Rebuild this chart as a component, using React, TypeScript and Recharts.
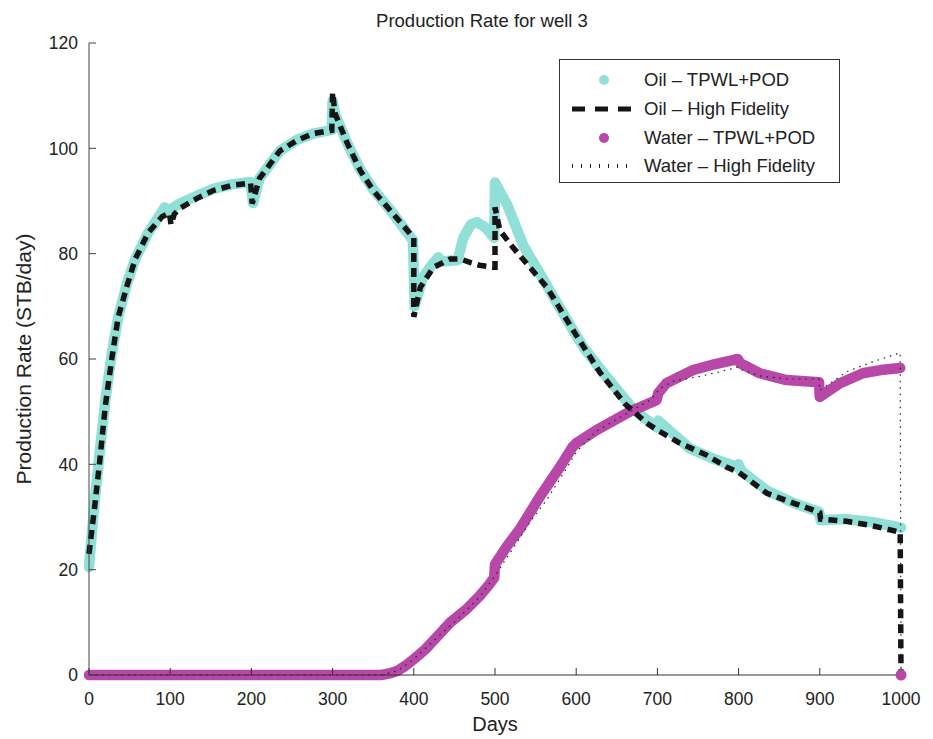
import React from 'react'
import { ComposedChart, Line, Scatter, XAxis, YAxis, Legend } from 'recharts'

// day / rate pairs
const oilTpwlDays = [0, 3, 7, 13, 20, 28, 36, 47, 57, 73, 88, 93, 97, 100, 112, 133, 153, 177, 199, 202, 210, 223, 235, 256, 276, 299, 300, 303, 318, 334, 350, 371, 399, 401, 411, 423, 430, 435, 454, 461, 470, 478, 488, 499, 500, 515, 535, 555, 575, 596, 610, 638, 670, 699, 701, 740, 770, 797, 800, 803, 835, 870, 899, 901, 933, 966, 1000]
const oilTpwlRate = [20.5, 26, 33, 42, 52, 61, 68, 74.5, 79, 84, 87.5, 88.8, 88, 88.4, 89.5, 91, 92.3, 93.2, 93.6, 89.6, 94.3, 97, 99.5, 101.6, 102.8, 103.5, 109, 106.5, 101, 96, 92.2, 88.3, 82.5, 70, 75.5, 78, 79.3, 78.5, 78.8, 83, 85.5, 86, 85, 83, 93.5, 89.3, 81.5, 76.3, 71, 65.5, 62, 56.5, 50.5, 47, 48.3, 43, 41, 39.6, 40, 38.8, 35, 32.5, 31, 29.4, 29.6, 29, 28]

const oilHfDays = [0, 7, 13.5, 20, 28, 36, 47, 57, 73, 90, 99, 101, 105, 112, 133, 153, 177, 199, 201, 210, 223, 235, 256, 276, 299, 300, 303, 318, 334, 350, 371, 400, 400, 408, 424, 445, 457, 470, 481, 498, 500, 500, 506, 522, 543, 564, 596, 629, 660, 687, 700, 728, 760, 785, 800, 835, 870, 892, 900, 901, 933, 966, 999, 1000]
const oilHfRate = [23, 32, 41, 51, 60, 68, 74, 79, 84, 87, 87.7, 85.5, 87.5, 88.6, 90.5, 92, 93, 93.4, 89.5, 94.3, 97, 99.5, 101.5, 102.8, 103.4, 110.6, 106.6, 101, 95.8, 92, 88.2, 83, 68, 73.6, 77.4, 79, 79, 78.3, 77.8, 77.4, 77.4, 88.8, 84.4, 81.2, 77.4, 73.6, 65.5, 57.5, 51.5, 47.8, 46.5, 44, 41.8, 39.5, 38.5, 34.5, 32.5, 31.3, 30.8, 29.6, 29.2, 28.3, 27.1, 0]

const waterTpwlDays = [0, 360, 370, 380, 390, 400, 415, 430, 445, 453, 465, 481, 492, 499, 500, 515, 531, 555, 580, 596, 600, 625, 666, 699, 701, 711, 744, 770, 793, 799, 802, 826, 859, 899, 900, 925, 953, 975, 999]
const waterTpwlRate = [0, 0, 0.3, 0.8, 1.8, 3, 5, 7.5, 10, 11, 12.5, 15, 17, 18.5, 21, 24.5, 27.8, 33.8, 39.5, 43.4, 44, 46.5, 50, 52.2, 53.5, 55.4, 57.9, 59, 59.8, 60, 59.2, 57.3, 56, 55.6, 52.8, 55.4, 57.3, 57.9, 58.3]
const waterTpwlEnd = [{ day: 1000, v: 0 }]

const waterHfDays = [0, 360, 380, 400, 430, 453, 481, 500, 510, 522, 545, 564, 585, 601, 625, 666, 691, 703, 720, 752, 775, 793, 800, 803, 826, 860, 899, 900, 933, 966, 999, 1000]
const waterHfRate = [0, 0, 0.8, 3, 7.3, 10.5, 14.8, 18.8, 21.2, 24, 29.5, 33.3, 38.5, 42.5, 46.3, 50, 52.2, 54.4, 55.8, 56.7, 57.5, 58.2, 58.5, 58, 56.8, 56.2, 56.2, 54, 57.6, 59.5, 61.2, 0]

const xTicks = [0, 100, 200, 300, 400, 500, 600, 700, 800, 900, 1000]
const yTicks = [0, 20, 40, 60, 80, 100, 120]

const toRows = (days: number[], rate: number[]) => days.map((d, i) => ({ day: d, v: rate[i] }))

const CYAN = '#90e0d8'
const MAGENTA = '#b848a8'
const FONT = '"Liberation Sans", Arial, Helvetica, sans-serif'

const legendRows = [
  { label: 'Oil – TPWL+POD', kind: 'dot', color: CYAN },
  { label: 'Oil – High Fidelity', kind: 'dash' },
  { label: 'Water – TPWL+POD', kind: 'dot', color: MAGENTA },
  { label: 'Water – High Fidelity', kind: 'dotted' },
]

function LegendBox() {
  return (
    <div style={{
      width: 281, height: 124, border: '1.5px solid #333', background: '#fff',
      boxSizing: 'border-box', paddingTop: 6, fontFamily: FONT, fontSize: 18.5, color: '#222'
    }}>
      {legendRows.map(r => (
        <div key={r.label} style={{ display: 'flex', alignItems: 'center', height: 28.7 }}>
          <svg width={84} height={20}>
            {r.kind === 'dot' && <circle cx={44} cy={10} r={5} fill={r.color} />}
            {r.kind === 'dash' && (
              <line x1={12} x2={75} y1={10} y2={10} stroke="#151515" strokeWidth={5} strokeDasharray="13 10" />
            )}
            {r.kind === 'dotted' && (
              <line x1={12} x2={75} y1={10} y2={10} stroke="#222" strokeWidth={4} strokeDasharray="1 8" />
            )}
          </svg>
          <span>{r.label}</span>
        </div>
      ))}
    </div>
  )
}

const YLabel = ({ viewBox }: any) => {
  const cx = viewBox.x - 16
  const cy = viewBox.y + viewBox.height / 2
  return (
    <text x={cx} y={cy} transform={`rotate(-90, ${cx}, ${cy})`} textAnchor="middle"
      dominantBaseline="central" fontSize={21} fontFamily={FONT} fill="#222">
      Production Rate (STB/day)
    </text>
  )
}

export default function App() {
  return (
    <div style={{ position: 'absolute', left: 0, top: 0, width: 933, height: 739, background: '#fff' }}>
      <div style={{
        position: 'absolute', left: 482, top: 10, transform: 'translateX(-50%)', whiteSpace: 'nowrap',
        fontFamily: FONT, fontSize: 18.5, color: '#222'
      }}>
        Production Rate for well 3
      </div>
      <ComposedChart width={933} height={739} margin={{ top: 43, right: 32, bottom: 34, left: 39 }}>
        <XAxis
          dataKey="day" type="number" domain={[0, 1000]} ticks={xTicks} allowDuplicatedCategory={false}
          height={30} tickSize={-7} tickMargin={25}
          tick={{ fontSize: 17.5, fill: '#222', fontFamily: FONT }}
          axisLine={{ stroke: '#333' }} tickLine={{ stroke: '#333' }}
          label={{ value: 'Days', position: 'bottom', offset: 12, fontSize: 20, fill: '#222', fontFamily: FONT }}
        />
        <YAxis
          type="number" domain={[0, 120]} ticks={yTicks} width={50}
          tickSize={-7} tickMargin={18}
          tick={{ fontSize: 17.5, fill: '#222', fontFamily: FONT }}
          axisLine={{ stroke: '#444' }} tickLine={{ stroke: '#444' }}
          label={<YLabel />}
        />
        <Legend verticalAlign="middle" layout="horizontal" content={<LegendBox />}
          wrapperStyle={{ position: 'absolute', top: 59, left: 559, width: 281 }} />
        <Line data={toRows(oilTpwlDays, oilTpwlRate)} dataKey="v" type="linear" stroke={CYAN}
          strokeWidth={10.5} strokeLinecap="round" strokeLinejoin="round" dot={false}
          isAnimationActive={false} name="Oil – TPWL+POD" />
        <Line data={toRows(waterTpwlDays, waterTpwlRate)} dataKey="v" type="linear" stroke={MAGENTA}
          strokeWidth={10.5} strokeLinecap="round" strokeLinejoin="round" dot={false}
          isAnimationActive={false} name="Water – TPWL+POD" />
        <Scatter data={waterTpwlEnd} dataKey="v" fill={MAGENTA} isAnimationActive={false}
          shape={(p: any) => <circle cx={p.cx} cy={p.cy} r={5.5} fill={MAGENTA} />} />
        <Line data={toRows(oilHfDays, oilHfRate)} dataKey="v" type="linear" stroke="#151515"
          strokeWidth={5.5} strokeDasharray="9 6" dot={false}
          isAnimationActive={false} name="Oil – High Fidelity" />
        <Line data={toRows(waterHfDays, waterHfRate)} dataKey="v" type="linear" stroke="#222"
          strokeWidth={1.2} strokeDasharray="1.5 5" dot={false}
          isAnimationActive={false} name="Water – High Fidelity" />
      </ComposedChart>
    </div>
  )
}
